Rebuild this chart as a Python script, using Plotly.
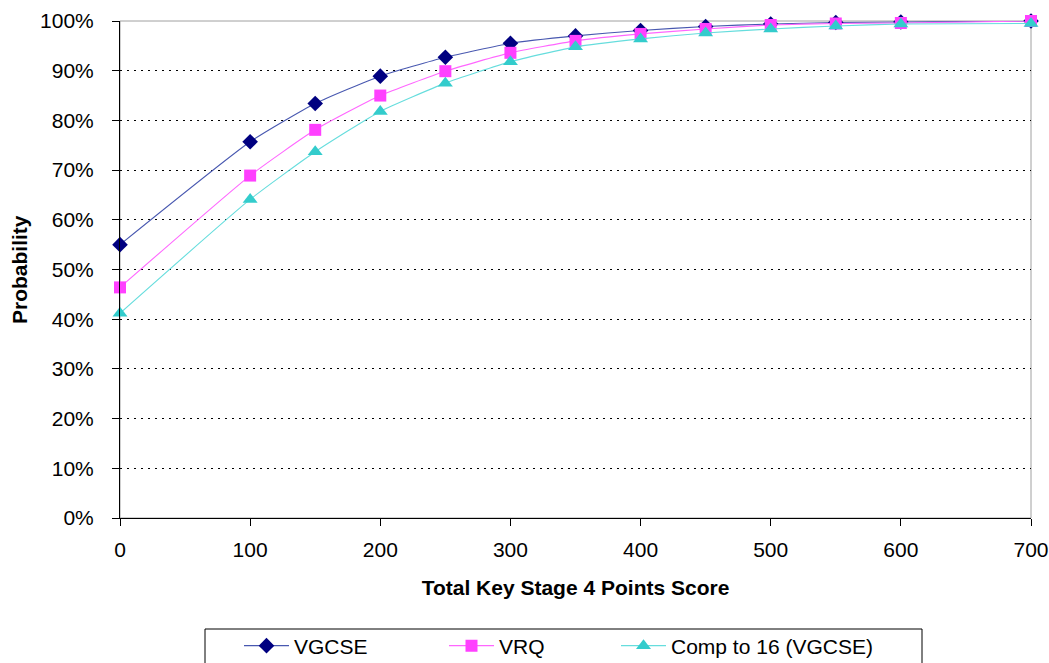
import plotly.graph_objects as go

scores = [0, 100, 150, 200, 250, 300, 350, 400, 450, 500, 550, 600, 700]
vgcse = [55.0, 75.7, 83.4, 88.9, 92.7, 95.5, 97.0, 98.1, 98.9, 99.4, 99.7, 99.8, 100.0]
vrq = [46.4, 68.9, 78.1, 85.0, 89.9, 93.6, 96.0, 97.4, 98.4, 99.2, 99.5, 99.6, 100.0]
comp16 = [41.2, 64.1, 73.7, 81.8, 87.5, 91.8, 94.8, 96.4, 97.6, 98.4, 99.0, 99.4, 99.5]

y_ticks = [0, 10, 20, 30, 40, 50, 60, 70, 80, 90, 100]
x_ticks = [0, 100, 200, 300, 400, 500, 600, 700]

series_names = ["VGCSE", "VRQ", "Comp to 16 (VGCSE)"]
line_colors = ["#4858b0", "#ff66ff", "#66dddd"]
marker_colors = ["#000080", "#ff40ff", "#33cccc"]
symbols = ["diamond", "square", "triangle-up"]
sizes = [12, 12, 13]
legend_ids = ["legend", "legend2", "legend3"]
legend_x_px = [239, 444, 616]

PL, PR, PT, PB = 120, 1031, 21, 518
W, H = 1049, 663
pw, ph = PR - PL, PB - PT


def px_x(p):
    return (p - PL) / pw


def px_y(p):
    return (PB - p) / ph


fig = go.Figure()
for name, ys, lc, mc, sym, sz, lid in zip(series_names, [vgcse, vrq, comp16], line_colors,
                                          marker_colors, symbols, sizes, legend_ids):
    fig.add_trace(go.Scatter(
        x=scores, y=ys, name=name, mode="lines+markers", legend=lid,
        line=dict(color=lc, width=1.1, shape="spline", smoothing=0.5),
        marker=dict(symbol=sym, size=sz, color=mc, line=dict(width=0)),
        cliponaxis=False,
    ))

font = "Liberation Sans, Arial, sans-serif"
legends = {}
for lid, lx in zip(legend_ids, legend_x_px):
    legends[lid] = dict(
        orientation="h", x=px_x(lx), xanchor="left", y=px_y(646), yanchor="middle",
        borderwidth=0, bgcolor="rgba(0,0,0,0)", itemwidth=45,
        font=dict(size=21, family=font, color="black"),
    )

fig.update_layout(
    width=W, height=H,
    margin=dict(l=PL, r=W - PR, t=PT, b=H - PB, autoexpand=False),
    paper_bgcolor="white", plot_bgcolor="white",
    font=dict(family=font, size=21, color="black"),
    showlegend=True,
    shapes=[
        dict(type="rect", xref="paper", yref="paper", x0=0, x1=1, y0=0, y1=1,
             line=dict(color="#a0a0a0", width=1), layer="below"),
        dict(type="rect", xref="paper", yref="paper", x0=px_x(205), x1=px_x(922),
             y0=px_y(680), y1=px_y(629), line=dict(color="black", width=1),
             fillcolor="white", layer="below"),
    ],
    annotations=[
        dict(text="<b>Probability</b>", xref="paper", yref="paper",
             x=px_x(19), y=px_y(270), xanchor="center", yanchor="middle",
             textangle=-90, showarrow=False, font=dict(size=21, family=font, color="black")),
    ],
    **legends,
)
fig.update_xaxes(
    range=[0, 700], tickmode="array", tickvals=x_ticks, ticktext=[str(v) for v in x_ticks],
    showgrid=False, zeroline=False, showline=True, linecolor="black", linewidth=1,
    ticks="outside", ticklen=7, tickcolor="black", automargin=False, ticklabelstandoff=6,
    title=dict(text="<b>Total Key Stage 4 Points Score</b>", font=dict(size=21), standoff=20),
)
fig.update_yaxes(
    range=[0, 100], tickmode="array", tickvals=y_ticks, ticktext=[f"{v}%" for v in y_ticks],
    showgrid=True, gridcolor="black", gridwidth=1, griddash="2px,5px",
    zeroline=False, showline=True, linecolor="black", linewidth=1,
    ticks="outside", ticklen=7, tickcolor="black", automargin=False, ticklabelstandoff=14,
)
fig.write_html(
    "out.html",
    config={"displayModeBar": False},
    post_script="document.body.style.margin='0';document.body.style.overflow='hidden';",
)
